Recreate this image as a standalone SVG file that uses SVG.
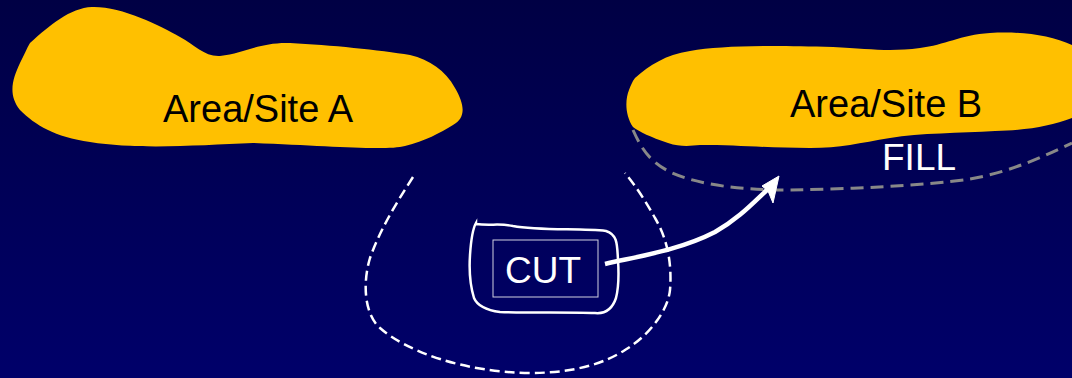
<svg xmlns="http://www.w3.org/2000/svg" width="1072" height="378" viewBox="0 0 1072 378">
<defs>
<linearGradient id="bg" x1="0" y1="0" x2="0" y2="1">
<stop offset="0" stop-color="#000044"/>
<stop offset="1" stop-color="#00006a"/>
</linearGradient>
<style>
.blob{fill:#ffc000;stroke:none}
.lbl{font-family:"Liberation Sans",Arial,sans-serif;font-size:38px}
.sm{font-size:37px}
.dark{fill:#000}
.light{fill:#fff}
</style>
</defs>
<rect width="1072" height="378" fill="url(#bg)"/>
<g id="siteA">
<path class="blob" d="M30,43 C50,25 70,8 92,7 C120,6 160,25 180,37 C195,45 205,57 220,56 C245,53 260,42 290,43 C330,45 380,50 410,55 C430,60 445,70 455,88 C465,105 466,118 453,125 C440,133 425,141 405,146 C385,151 330,146 253,143 C200,145 140,150 90,142 C55,137 35,125 20,110 C8,95 12,80 20,63 C24,55 27,48 30,43 Z"/>
<text class="lbl dark" x="163" y="122">Area/Site A</text>
</g>
<g id="siteB">
<path class="blob" d="M635,78 C650,65 665,55 690,51 C720,46 760,45 833,47 C870,49 890,52 920,48 C945,45 960,35 990,33 C1020,31 1050,35 1072,45 L1072,118 C1050,126 1030,130 995,131 C960,133 920,133 890,138 C860,143 840,148 810,148 C770,148 740,145 700,145 C690,146 680,147 668,143 C650,137 640,132 633,127 C625,115 625,100 629,90 C631,85 632,82 635,78 Z"/>
<text class="lbl dark" x="790" y="117">Area/Site B</text>
<text class="lbl sm light" x="882" y="170">FILL</text>
</g>
<g id="connectors" fill="none">
<path d="M633,130 C642,150 650,162 672,173 C700,185 740,190 790,190 C850,189 920,186 970,179 C1010,172 1040,158 1072,143" stroke="#888" stroke-width="3" stroke-dasharray="13,7"/>
<path d="M413,177 C395,205 380,230 370,258 C362,285 365,315 380,328 C405,350 460,372 530,373 C575,373 605,363 625,350 C650,335 668,310 670,290 C672,265 668,240 655,218 C645,200 635,185 625,173" stroke="#fff" stroke-width="2.5" stroke-dasharray="10,5"/>
<path d="M476,224 C490,226 500,223 513,226 C540,231 580,228 606,231 C618,235 617,245 618,260 C619,275 618,290 616,298 C612,310 605,314 595,313 C570,312 530,313 500,312 C485,310 477,305 474,298 C470,285 469,270 470,255 C471,240 472,230 476,223 Z" stroke="#fff" stroke-width="2.5"/>
<path d="M605,264 C640,256 680,250 715,232 C738,219 752,204 768,189" stroke="#fff" stroke-width="4.5"/>
<path d="M779,176 L762,186 L768,191 L773,203 Z" fill="#fff" stroke="#fff" stroke-width="1" stroke-linejoin="miter"/>
</g>
<g id="cut">
<rect x="493" y="240" width="105" height="57" fill="none" stroke="#d0d0e0" stroke-width="1"/>
<text class="lbl sm light" x="505" y="283">CUT</text>
</g>
</svg>
